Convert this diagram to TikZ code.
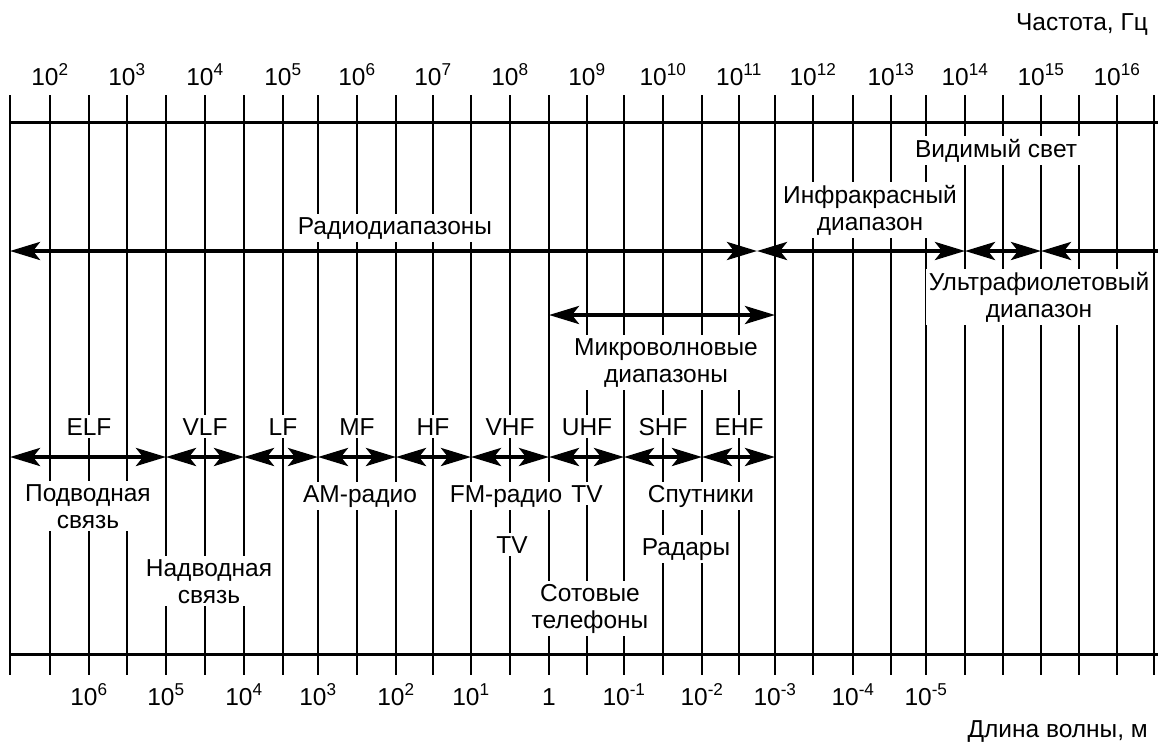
\documentclass[tikz,border=0pt]{standalone}
\usepackage{fontspec}
\setmainfont{Liberation Sans}
\usetikzlibrary{arrows.meta}
\tikzset{
  gridline/.style={line width=1.8pt},
  axisline/.style={line width=3pt},
  tipA/.tip={Stealth[length=30pt,width=18pt,inset=7pt]},
  band/.style={line width=4pt,tipA-tipA},
  lbl/.style={font=\fontsize{24.5}{27}\selectfont, fill=white, inner sep=3pt, anchor=base, align=center},
  num/.style={font=\fontsize{24.5}{27}\selectfont, inner sep=0pt, anchor=base},
}
\begin{document}
\begin{tikzpicture}[x=1pt,y=-1pt]
\useasboundingbox (0,0) rectangle (1158,742);
% vertical grid lines and named points on them
\foreach \x [count=\i from 0] in {10,50,89,127,166,205,244,283,318,357,396,433,471,510,549,587,624,663,702,739,775,813,853,891,926,965,1003,1041,1079,1117,1154} {
  \coordinate (t\i) at (\x,95);
  \coordinate (b\i) at (\x,675);
  \coordinate (r\i) at (\x,251);
  \coordinate (m\i) at (\x,315);
  \coordinate (f\i) at (\x,457);
  \draw[gridline] (t\i) -- (b\i);
}
% horizontal axes
\coordinate (htl) at (10,122);
\coordinate (htr) at (1158,122);
\coordinate (hbl) at (10,654);
\coordinate (hbr) at (1158,654);
\draw[axisline] (htl) -- (htr);
\draw[axisline] (hbl) -- (hbr);
% frequency labels
\foreach \e in {2,...,16} {
  \pgfmathtruncatemacro\i{2*\e-3}
  \node[num] (fq\e) at (t\i |- 0,85) {10\textsuperscript{\e}};
}
% wavelength labels
\foreach \e in {6,5,4,3,2,1,-1,-2,-3,-4,-5} {
  \pgfmathtruncatemacro\i{14-2*\e}
  \node[num] (wl\i) at (t\i |- 0,705) {10\textsuperscript{\e}};
}
\node[num] (wl14) at (t14 |- 0,705) {1};
\node[num, anchor=base east] (freq) at (1148,30) {Частота, Гц};
\node[num, anchor=base east] (wave) at (1148,737) {Длина волны, м};
% spectrum arrows
\coordinate (rmid) at (757,251);
\coordinate (redge) at (1158,251);
\draw[band] (r0) -- (rmid);
\draw[band] (rmid) -- (r25);
\draw[band] (r25) -- (r27);
\draw[line width=4pt,tipA-] (r27) -- (redge);
\draw[band] (m14) -- (m20);
\foreach \a/\b in {0/4,4/6,6/8,8/10,10/12,12/14,14/16,16/18,18/20} {
  \draw[band] (f\a) -- (f\b);
}
% labels (for two-line labels the base is the last line)
\node[lbl] (radio) at (395,234) {Радиодиапазоны};
\node[lbl] (vis) at (996,157) {Видимый свет};
\node[lbl] (ir) at (870,230) {Инфракрасный\\диапазон};
\node[lbl] (uv) at (1039,317) {Ультрафиолетовый\\диапазон};
\node[lbl] (mw) at (666,382) {Микроволновые\\диапазоны};
\foreach \t/\i in {ELF/2,VLF/5,LF/7,MF/9,HF/11,VHF/13,UHF/15,SHF/17,EHF/19} {
  \node[lbl] (bd\t) at (t\i |- 0,435) {\t};
}
\node[lbl] (sub) at (88,528) {Подводная\\связь};
\node[lbl] (surf) at (209,603) {Надводная\\связь};
\node[lbl] (am) at (360,502) {AM-радио};
\node[lbl] (fm) at (506,502) {FM-радио};
\node[lbl] (tv1) at (587,502) {TV};
\node[lbl] (sat) at (701,502) {Спутники};
\node[lbl] (tv2) at (512,553) {TV};
\node[lbl] (radar) at (686,555) {Радары};
\node[lbl] (cell) at (590,628) {Сотовые\\телефоны};
\end{tikzpicture}
\end{document}
